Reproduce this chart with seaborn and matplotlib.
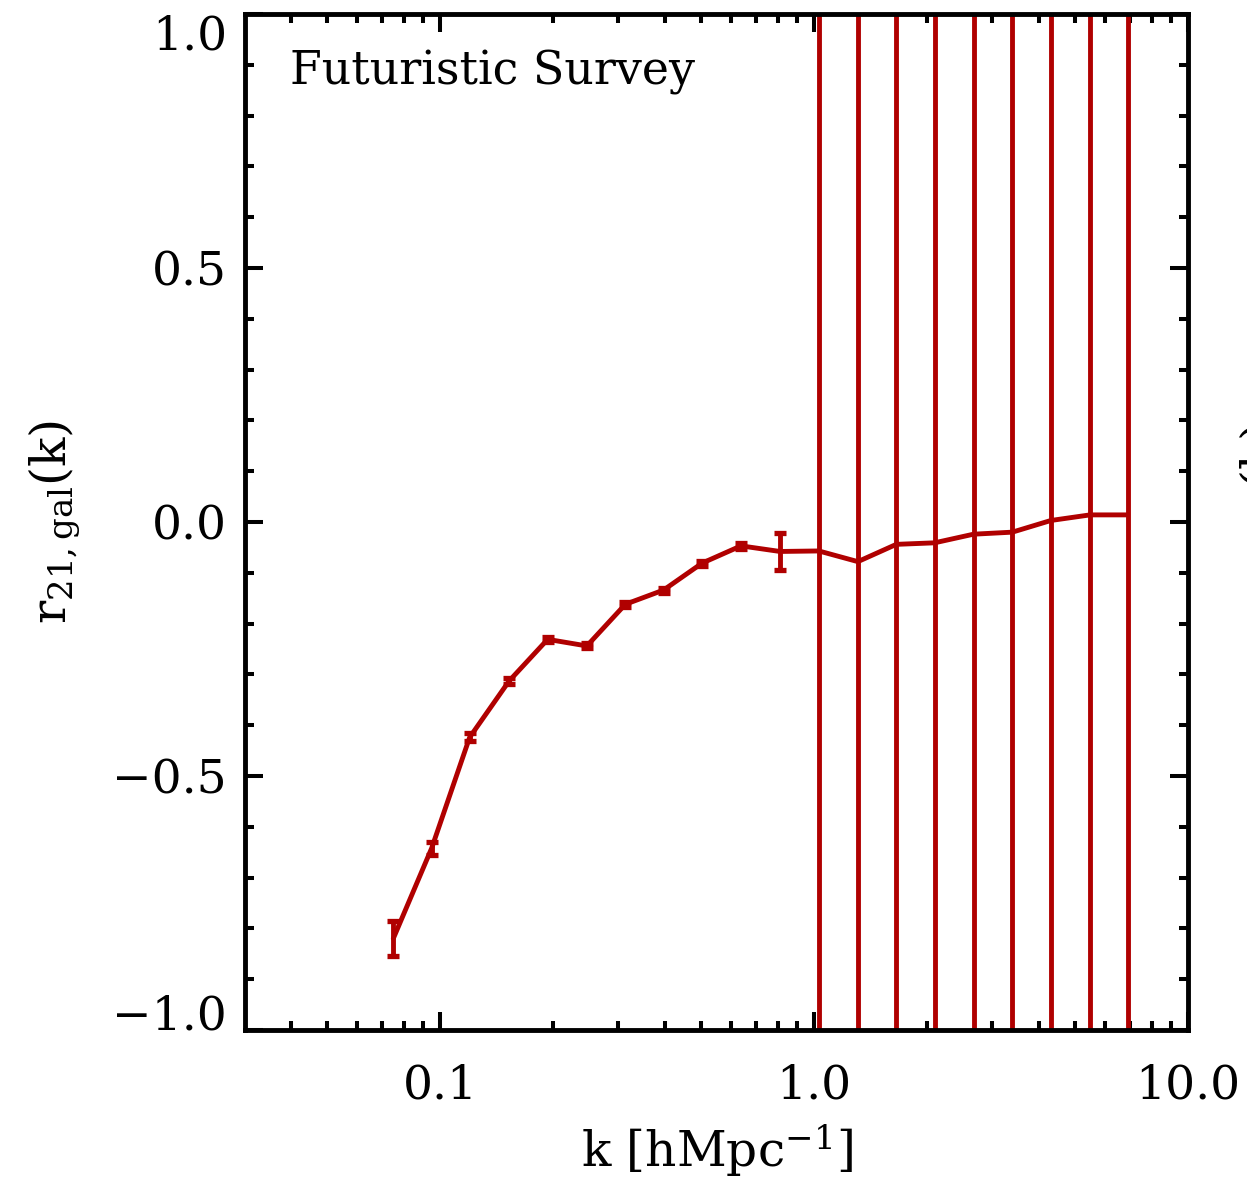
import numpy as np
import pandas as pd
import matplotlib
matplotlib.use("Agg")
import matplotlib.pyplot as plt
import seaborn as sns
from matplotlib.ticker import FixedLocator, FixedFormatter, LogLocator, MultipleLocator, NullFormatter

# ---- data ----
k_vals = [0.075, 0.095, 0.120, 0.153, 0.194, 0.247, 0.313, 0.396, 0.502, 0.638, 0.811,
          1.03, 1.31, 1.66, 2.10, 2.67, 3.39, 4.30, 5.47, 6.90]
r_vals = [-0.82, -0.642, -0.424, -0.313, -0.231, -0.244, -0.162, -0.134, -0.081, -0.047, -0.058,
          -0.057, -0.078, -0.044, -0.041, -0.024, -0.020, 0.003, 0.014, 0.014]
r_err = [0.035, 0.013, 0.008, 0.006, 0.005, 0.005, 0.005, 0.005, 0.005, 0.006, 0.036,
         5.0, 5.0, 5.0, 5.0, 5.0, 5.0, 5.0, 5.0, 5.0]
x_ticks = [0.1, 1.0, 10.0]
x_ticklabels = ["0.1", "1.0", "10.0"]
y_ticks = [-1.0, -0.5, 0.0, 0.5, 1.0]
y_ticklabels = ["\u22121.0", "\u22120.5", "0.0", "0.5", "1.0"]
annotation = "Futuristic Survey"

df = pd.DataFrame({"k": k_vals, "r": r_vals, "err": r_err})

sns.set_theme(style="ticks")
plt.rcParams["font.family"] = ["DejaVu Serif"]
plt.rcParams["mathtext.fontset"] = "dejavuserif"
for key in ["text.color", "axes.labelcolor", "xtick.color", "ytick.color", "axes.edgecolor"]:
    plt.rcParams[key] = "black"

color = "#B00000"
fig = plt.figure(figsize=(12.47, 11.86), dpi=100)
ax = fig.add_axes([245/1247, 1-1030/1186, (1188-245)/1247, (1030-14)/1186])

sns.lineplot(data=df, x="k", y="r", ax=ax, color=color, lw=3.5, estimator=None, sort=False)
ax.errorbar(df["k"], df["r"], yerr=df["err"], fmt="none", ecolor=color,
            elinewidth=3.5, capsize=4.4, capthick=3.8)

ax.set_xscale("log")
ax.set_xlim(0.0301, 10.0)
ax.set_ylim(-1.0, 1.0)

ax.xaxis.set_major_locator(FixedLocator(x_ticks))
ax.xaxis.set_major_formatter(FixedFormatter(x_ticklabels))
ax.xaxis.set_minor_locator(LogLocator(base=10, subs=np.arange(2, 10)))
ax.xaxis.set_minor_formatter(NullFormatter())
ax.yaxis.set_major_locator(FixedLocator(y_ticks))
ax.yaxis.set_major_formatter(FixedFormatter(y_ticklabels))
ax.yaxis.set_minor_locator(MultipleLocator(0.1))

ax.tick_params(which="both", direction="in", top=True, right=True, width=2.9, color="black")
ax.tick_params(which="major", length=13, labelsize=34)
ax.tick_params(which="minor", length=6.5)
ax.tick_params(axis="x", which="major", pad=24)
ax.tick_params(axis="y", which="major", pad=13)
for s in ax.spines.values():
    s.set_linewidth(3.5)
    s.set_color("black")

fig.canvas.draw()
ylabels = ax.get_yticklabels()
ylabels[0].set_va("baseline")
ylabels[-1].set_va("top")

ax.set_xlabel(r"k [hMpc$^{\mathregular{-1}}$]", fontsize=35, labelpad=10)
ax.set_ylabel(r"r$_{\mathregular{21,gal}}$(k)", fontsize=35, labelpad=22)

ax.text(0.048, 0.965, annotation, transform=ax.transAxes, fontsize=33, ha="left", va="top")

# fragment of the neighbouring panel's y label at the right edge
fig.text(1265/1247, 1-525/1186, r"r$_{\mathregular{21,gal}}$(k)", rotation=90,
         fontsize=35, ha="center", va="center")

fig.savefig("out.png", dpi=100)
